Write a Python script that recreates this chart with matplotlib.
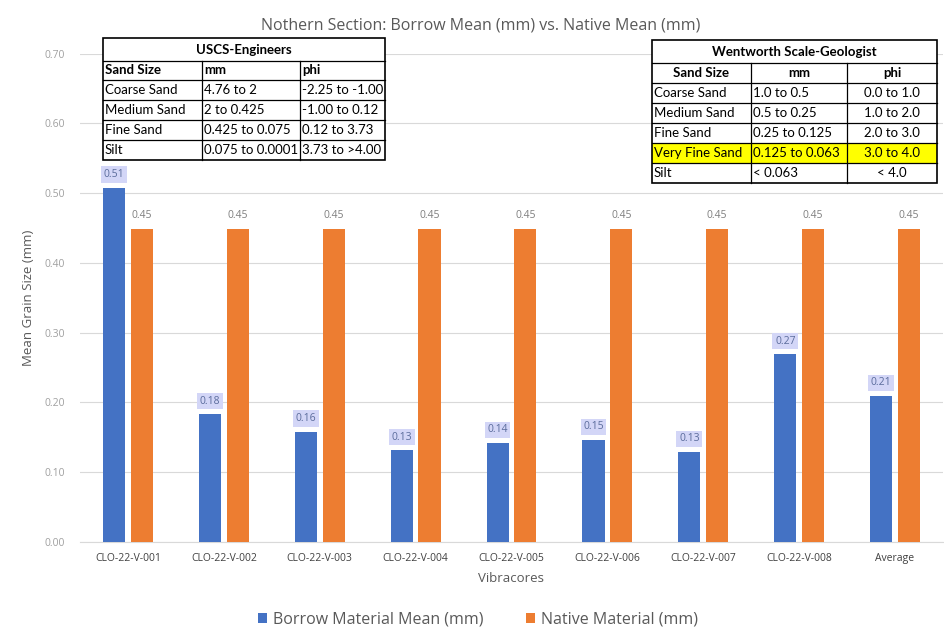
import matplotlib
matplotlib.use("Agg")
import matplotlib.pyplot as plt
from matplotlib.patches import Rectangle
import numpy as np

categories = ["CLO-22-V-001", "CLO-22-V-002", "CLO-22-V-003", "CLO-22-V-004",
              "CLO-22-V-005", "CLO-22-V-006", "CLO-22-V-007", "CLO-22-V-008", "Average"]
borrow_mean = [0.508, 0.183, 0.158, 0.131, 0.142, 0.146, 0.129, 0.269, 0.209]
borrow_labels = ["0.51", "0.18", "0.16", "0.13", "0.14", "0.15", "0.13", "0.27", "0.21"]
native_mean = [0.448] * 9
native_labels = ["0.45"] * 9
yticks = [0.0, 0.1, 0.2, 0.3, 0.4, 0.5, 0.6, 0.7]

uscs_title = "USCS-Engineers"
uscs_rows = [["Sand Size", "mm", "phi"],
             ["Coarse Sand", "4.76 to 2", "-2.25 to -1.00"],
             ["Medium Sand", "2 to 0.425", "-1.00 to 0.12"],
             ["Fine Sand", "0.425 to 0.075", "0.12 to 3.73"],
             ["Silt", "0.075 to 0.0001", "3.73 to >4.00"]]
went_title = "Wentworth Scale-Geologist"
went_rows = [["Sand Size", "mm", "phi"],
             ["Coarse Sand", "1.0 to 0.5", "0.0 to 1.0"],
             ["Medium Sand", "0.5 to 0.25", "1.0 to 2.0"],
             ["Fine Sand", "0.25 to 0.125", "2.0 to 3.0"],
             ["Very Fine Sand", "0.125 to 0.063", "3.0 to 4.0"],
             ["Silt", "< 0.063", "< 4.0"]]

BLUE = "#4472C4"
ORANGE = "#ED7D31"
GRAY = "#595959"
CHART_FONT = ["Open Sans", "DejaVu Sans"]
TABLE_FONT = ["Lato", "DejaVu Sans"]

W, H = 945, 643
fig = plt.figure(figsize=(W / 100, H / 100), dpi=100)
fig.patch.set_facecolor("white")

def fx(px):
    return px / W

def fy(py):
    return 1 - py / H

ax_left, ax_right, ax_top, ax_bot = 80, 943, 53.7, 541.7
ax = fig.add_axes([fx(ax_left), fy(ax_bot), fx(ax_right - ax_left), (ax_bot - ax_top) / H])

x = np.arange(len(categories))
bw = 0.23
gap = 0.06
xb = x - (bw + gap) / 2
xo = x + (bw + gap) / 2
ax.bar(xb, borrow_mean, width=bw, color=BLUE, zorder=3, label="Borrow Material Mean (mm)")
ax.bar(xo, native_mean, width=bw, color=ORANGE, zorder=3, label="Native Material (mm)")

for xi, v, lab in zip(xb, borrow_mean, borrow_labels):
    ax.annotate(lab, (xi, v), xytext=(0, 13), textcoords="offset pixels",
                ha="center", va="center", fontsize=7.5, color="#5b6c9c", family=CHART_FONT,
                bbox=dict(boxstyle="square,pad=0.25", fc="#d3d6f7", ec="none"), zorder=5)
for xi, v, lab in zip(xo, native_mean, native_labels):
    ax.annotate(lab, (xi, v), xytext=(0, 14), textcoords="offset pixels",
                ha="center", va="center", fontsize=7.5, color="#7f7f7f", family=CHART_FONT, zorder=5)

ax.set_xlim(-0.5, len(categories) - 0.5)
ax.set_ylim(0, 0.70)
ax.set_yticks(yticks)
ax.set_yticklabels([f"{t:.2f}" for t in yticks], fontsize=7.5, color="#a0a0a0", family=CHART_FONT)
ax.set_xticks(x)
ax.set_xticklabels(categories, fontsize=7.5, color="#404040", family=CHART_FONT)
ax.tick_params(axis="both", length=0, pad=8)
ax.tick_params(axis="y", pad=11)
ax.grid(axis="y", color="#d9d9d9", linewidth=0.8, zorder=0)
for s in ["top", "right", "left"]:
    ax.spines[s].set_visible(False)
ax.spines["bottom"].set_color("#d9d9d9")

ax.set_ylabel("Mean Grain Size (mm)", fontsize=9.5, color=GRAY, family=CHART_FONT)
ax.yaxis.set_label_coords((35 - ax_left) / (ax_right - ax_left), 0.5)
ax.set_xlabel("Vibracores", fontsize=9.5, color=GRAY, family=CHART_FONT, labelpad=6)
fig.text(fx(481), fy(25), "Nothern Section: Borrow Mean (mm) vs. Native Mean (mm)",
         ha="center", va="center", fontsize=11.5, color=GRAY, family=CHART_FONT)

leg = fig.legend(loc="center", bbox_to_anchor=(fx(478), fy(620)), ncol=2, frameon=False,
                 prop={"family": CHART_FONT, "size": 11.5}, handlelength=0.6, handleheight=0.6,
                 columnspacing=2.6, handletextpad=0.4)
for t in leg.get_texts():
    t.set_color(GRAY)


def draw_table(cols, row_hs, title, rows, header_center=False, align=None, highlight=None):
    x0, x1 = cols[0], cols[-1]
    y0, y1 = row_hs[0], row_hs[-1]
    fig.add_artist(Rectangle((fx(x0), fy(y1)), fx(x1 - x0), (y1 - y0) / H,
                             transform=fig.transFigure, fc="white", ec="none", zorder=10))
    if highlight is not None:
        top, bot = row_hs[highlight + 1], row_hs[highlight + 2]
        fig.add_artist(Rectangle((fx(x0), fy(bot)), fx(x1 - x0), (bot - top) / H,
                                 transform=fig.transFigure, fc="#FFFF00", ec="none", zorder=10.5))
    for yy in row_hs[1:-1]:
        fig.add_artist(plt.Line2D([fx(x0), fx(x1)], [fy(yy), fy(yy)], transform=fig.transFigure,
                                  color="black", lw=0.9, zorder=11))
    for xx in cols[1:-1]:
        fig.add_artist(plt.Line2D([fx(xx), fx(xx)], [fy(row_hs[1]), fy(y1)], transform=fig.transFigure,
                                  color="black", lw=0.9, zorder=11))
    fig.add_artist(Rectangle((fx(x0), fy(y1)), fx(x1 - x0), (y1 - y0) / H,
                             transform=fig.transFigure, fc="none", ec="black", lw=1.2, zorder=12))
    fig.text(fx((x0 + x1) / 2), fy((row_hs[0] + row_hs[1]) / 2), title, ha="center", va="center",
             fontsize=9.5, fontweight="bold", family=TABLE_FONT, color="black", zorder=13)
    for r, row in enumerate(rows):
        yc = fy((row_hs[r + 1] + row_hs[r + 2]) / 2)
        for c, txt in enumerate(row):
            a = align[c] if align else "left"
            if r == 0 and header_center:
                a = "center"
            if a == "left":
                xt, ha = cols[c] + 2, "left"
            else:
                xt, ha = (cols[c] + cols[c + 1]) / 2, "center"
            fig.text(fx(xt), yc, txt, ha=ha, va="center", fontsize=9.5,
                     fontweight="bold" if r == 0 else "normal", family=TABLE_FONT,
                     color="black", zorder=13)


draw_table([103, 202, 300, 385], [38, 61, 80, 100, 120, 140, 160], uscs_title, uscs_rows)
draw_table([652, 751, 847, 937], [40, 63, 83, 103, 123, 143, 163, 183], went_title, went_rows,
           header_center=True, align=["left", "left", "center"], highlight=4)

fig.savefig("out.png", dpi=100, facecolor="white")
